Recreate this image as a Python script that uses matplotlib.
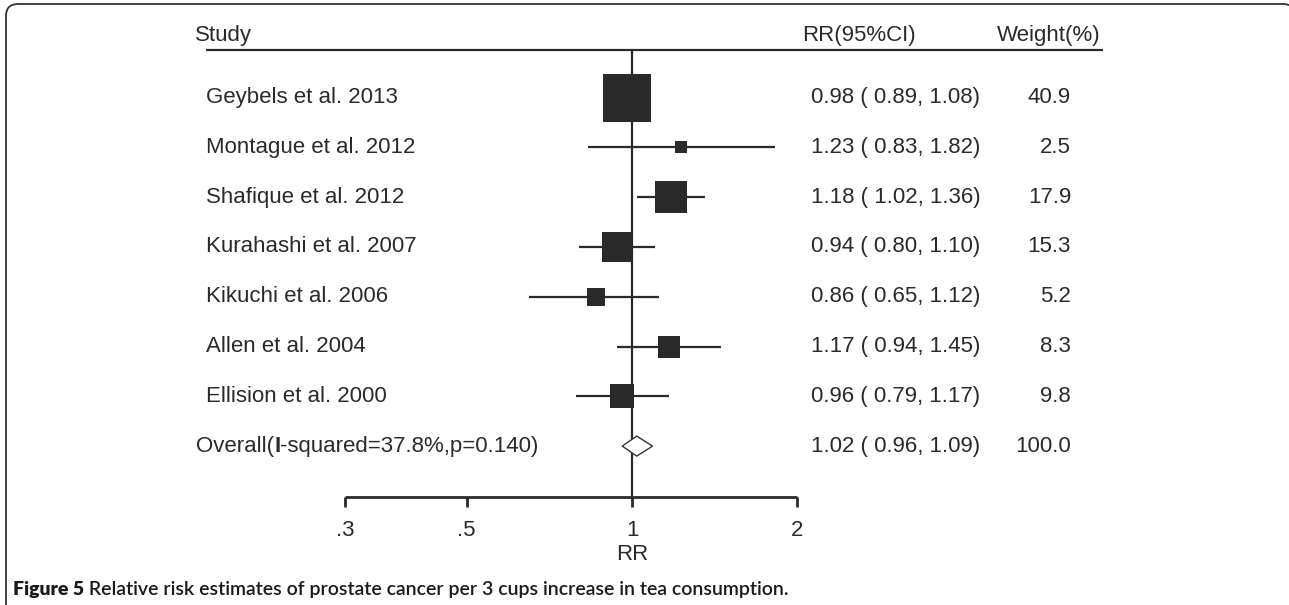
import numpy as np
import matplotlib.pyplot as plt
import matplotlib.transforms as mtransforms
from matplotlib.patches import FancyBboxPatch

plt.rcParams['font.family'] = ['Liberation Sans', 'DejaVu Sans']

# ---- data ----
studies = ['Geybels et al. 2013', 'Montague et al. 2012', 'Shafique et al. 2012',
           'Kurahashi et al. 2007', 'Kikuchi et al. 2006', 'Allen et al. 2004',
           'Ellision et al. 2000']
rr = [0.98, 1.23, 1.18, 0.94, 0.86, 1.17, 0.96]
lo = [0.89, 0.83, 1.02, 0.80, 0.65, 0.94, 0.79]
hi = [1.08, 1.82, 1.36, 1.10, 1.12, 1.45, 1.17]
weight = [40.9, 2.5, 17.9, 15.3, 5.2, 8.3, 9.8]

overall_parts = ['Overall(', 'I', '-squared=37.8%,p=0.140)']
overall_rr, overall_lo, overall_hi, overall_w = 1.02, 0.96, 1.09, 100.0

xticks = [0.3, 0.5, 1, 2]
xticklabels = ['.3', '.5', '1', '2']

caption_bold = 'Figure 5'
caption_text = ' Relative risk estimates of prostate cancer per 3 cups increase in tea consumption.'

# ---- layout ----
W, H = 1289, 605
ink = '#2a2a2a'
fs = 16

fig = plt.figure(figsize=(W / 100, H / 100), dpi=100)
fig.patch.set_facecolor('white')

# overlay axes in pixel units for the frame and caption
ax0 = fig.add_axes([0, 0, 1, 1])
ax0.set_xlim(0, W)
ax0.set_ylim(H, 0)
ax0.axis('off')
frame = FancyBboxPatch((6, 4), 1289, 800, boxstyle='round,pad=0,rounding_size=12',
                       facecolor='none', edgecolor='#333333', linewidth=1.3)
ax0.add_patch(frame)
cap = ax0.text(13, 589, caption_bold, fontsize=14, fontweight='heavy',
               family=['Lato', 'DejaVu Sans'], color='#1a1a1a', va='center')
ax0.annotate(caption_text, xy=(1, 0.5), xycoords=cap, va='center', ha='left',
             fontsize=14, fontweight='semibold', family=['Lato', 'DejaVu Sans'],
             color='#1a1a1a')

# forest axes: log x, rows on y
ax = fig.add_axes([0, 0, 1, 1])
ax.patch.set_alpha(0)
ax.set_xscale('log')
px_per_ln = 238.5
x1 = 632
ax.set_xlim(np.exp(-x1 / px_per_ln), np.exp((W - x1) / px_per_ln))
row0, step = 97.5, 49.8
ax.set_ylim((H - row0) / step, (0 - row0) / step)
ax.axis('off')

def r(py):
    return (py - row0) / step

rows = np.arange(len(studies))
y_over = len(studies)
y_head = r(35)
y_line = r(50)
y_axis = r(497)

trans = mtransforms.blended_transform_factory(fig.transFigure, ax.transData)

# header
ax.text(195 / W, y_head, 'Study', transform=trans, fontsize=fs, color=ink, va='center')
ax.text(802 / W, y_head, 'RR(95%CI)', transform=trans, fontsize=fs, color=ink, va='center')
ax.text(997 / W, y_head, 'Weight(%)', transform=trans, fontsize=fs, color=ink, va='center')
ax.plot([206 / W, 1103 / W], [y_line, y_line], transform=trans, color=ink, lw=1.6,
        solid_capstyle='butt')

# null line
ax.vlines(1, y_line, y_axis, color=ink, lw=1.6)

# CIs and weighted squares
ax.hlines(rows, lo, hi, color=ink, lw=1.6, zorder=2)
for y, est, w in zip(rows, rr, weight):
    ax.plot(est, y, marker='s', color=ink, markersize=7.66 * np.sqrt(w) * 0.72,
            markeredgewidth=0, zorder=3)

# overall diamond
dh = r(458) - r(448)
ax.fill([overall_lo, overall_rr, overall_hi, overall_rr],
        [y_over, y_over - dh, y_over, y_over + dh],
        facecolor='white', edgecolor='#333333', lw=1.0, zorder=4)

# row text
for y, name, est, l, h, w in zip(rows, studies, rr, lo, hi, weight):
    ax.text(206 / W, y, name, transform=trans, fontsize=fs, color=ink, va='center')
    ax.text(811 / W, y, '%.2f (%5.2f, %.2f)' % (est, l, h), transform=trans,
            fontsize=fs, color=ink, va='center')
    ax.text(1071 / W, y, '%.1f' % w, transform=trans, fontsize=fs, color=ink,
            va='center', ha='right')

# overall label, with the bold "I"
t0 = ax.text(196 / W, y_over, overall_parts[0], transform=trans, fontsize=fs,
             color=ink, va='center')
t1 = ax.annotate(overall_parts[1], xy=(1, 0.5), xycoords=t0, va='center', ha='left',
                 fontsize=fs, color=ink, fontweight='bold')
ax.annotate(overall_parts[2], xy=(1, 0.5), xycoords=t1, va='center', ha='left',
            fontsize=fs, color=ink)
ax.text(811 / W, y_over, '%.2f (%5.2f, %.2f)' % (overall_rr, overall_lo, overall_hi),
        transform=trans, fontsize=fs, color=ink, va='center')
ax.text(1071 / W, y_over, '%.1f' % overall_w, transform=trans, fontsize=fs, color=ink,
        va='center', ha='right')

# x axis
ax.hlines(y_axis, xticks[0], xticks[-1], color=ink, lw=2.0)
ax.vlines(xticks, y_axis, r(507), color=ink, lw=2.0)
for t, lab in zip(xticks, xticklabels):
    ax.text(t, r(530), lab, fontsize=fs, color=ink, ha='center', va='center')
ax.text(1, r(555), 'RR', fontsize=fs, color=ink, ha='center', va='center')

plt.savefig('out.png', dpi=100)
